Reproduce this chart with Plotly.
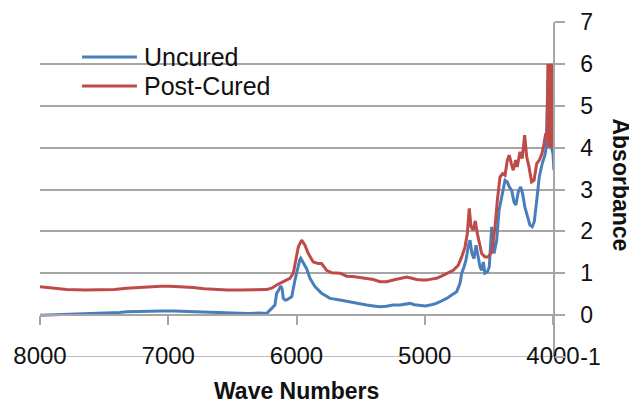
import plotly.graph_objects as go

# ---------------- data ----------------
uncured_wn = [8000, 7900, 7800, 7665, 7550, 7454, 7380, 7324, 7240, 7142, 7050, 6961, 6860, 6752, 6620,
              6493, 6380, 6290, 6233, 6207, 6194, 6168, 6155, 6142, 6123, 6112, 6103, 6090, 6077,
              6060, 6037, 6012, 5986, 5973, 5967, 5955, 5942, 5921, 5895, 5856, 5804, 5739, 5661,
              5600, 5557, 5500, 5453, 5400, 5349, 5300, 5245, 5193, 5150, 5115, 5080, 5037, 4995,
              4959, 4920, 4881, 4829, 4790, 4751, 4725, 4712, 4694, 4679, 4661, 4647, 4632, 4616,
              4600, 4583, 4569, 4556, 4543, 4531, 4512, 4497, 4478, 4460, 4439, 4421, 4400, 4374,
              4356, 4341, 4322, 4304, 4289, 4271, 4252, 4237, 4219, 4201, 4180, 4162, 4146, 4127,
              4107, 4084, 4063, 4052, 4048, 4044, 4040, 4035, 4030, 4024, 4016, 4008, 4000, 3993]
uncured_abs = [0.00, 0.01, 0.01, 0.02, 0.03, 0.04, 0.06, 0.08, 0.09, 0.10, 0.10, 0.10, 0.09, 0.07, 0.05,
               0.04, 0.04, 0.05, 0.04, 0.12, 0.16, 0.24, 0.52, 0.58, 0.70, 0.62, 0.40, 0.36, 0.36,
               0.40, 0.44, 0.84, 1.19, 1.33, 1.36, 1.30, 1.23, 1.11, 0.88, 0.68, 0.52, 0.40, 0.36,
               0.32, 0.29, 0.26, 0.24, 0.22, 0.20, 0.21, 0.24, 0.24, 0.26, 0.28, 0.25, 0.24, 0.22,
               0.24, 0.27, 0.32, 0.40, 0.48, 0.56, 0.76, 1.00, 1.15, 1.31, 1.63, 1.79, 1.47, 1.35,
               1.67, 1.39, 1.15, 1.07, 1.27, 1.00, 1.03, 1.15, 2.11, 1.47, 1.79, 2.50, 2.79, 3.22,
               3.18, 3.06, 2.98, 2.70, 2.63, 2.94, 3.06, 2.90, 2.58, 2.35, 2.15, 2.11, 2.23, 2.74,
               3.30, 3.62, 3.82, 4.02, 4.80, 5.50, 5.60, 5.50, 5.20, 4.60, 4.18, 3.95, 3.86, 3.46]

cured_wn = [8000, 7900, 7792, 7650, 7532, 7420, 7324, 7230, 7142, 7060, 6986, 6900, 6805, 6720,
            6622, 6540, 6441, 6330, 6233, 6190, 6155, 6103, 6051, 6025, 6012, 5986, 5960, 5934,
            5908, 5869, 5830, 5804, 5765, 5726, 5661, 5609, 5560, 5505, 5450, 5401, 5349, 5297,
            5245, 5190, 5141, 5100, 5063, 5020, 4985, 4950, 4907, 4870, 4829, 4778, 4739, 4712,
            4686, 4668, 4653, 4639, 4622, 4606, 4590, 4575, 4556, 4530, 4505, 4478, 4452, 4434,
            4413, 4392, 4374, 4356, 4341, 4325, 4310, 4291, 4279, 4257, 4240, 4221, 4205, 4187,
            4167, 4148, 4127, 4107, 4086, 4070, 4057, 4050, 4045,
            4040, 4037, 4034, 4031, 4028, 4025, 4022, 4019, 4016, 4013, 4010, 4007, 4004, 4001,
            3998, 3995]
cured_abs = [0.68, 0.65, 0.61, 0.60, 0.60, 0.61, 0.64, 0.66, 0.68, 0.69, 0.69, 0.68, 0.66, 0.63,
             0.61, 0.60, 0.60, 0.60, 0.61, 0.65, 0.72, 0.80, 0.88, 1.00, 1.23, 1.63, 1.79, 1.67,
             1.47, 1.27, 1.23, 1.23, 1.07, 1.01, 1.00, 0.93, 0.92, 0.90, 0.88, 0.85, 0.80, 0.80,
             0.84, 0.88, 0.91, 0.88, 0.85, 0.84, 0.84, 0.86, 0.88, 0.93, 1.00, 1.07, 1.19, 1.39,
             1.63, 1.95, 2.55, 2.11, 2.03, 2.25, 1.95, 1.71, 1.47, 1.39, 1.39, 1.51, 2.11, 2.74,
             3.30, 3.38, 3.34, 3.70, 3.82, 3.62, 3.46, 3.70, 3.54, 3.90, 3.74, 4.30, 3.78, 3.54,
             3.18, 3.22, 3.62, 3.70, 3.86, 4.10, 4.34, 4.20, 4.50,
             6.00, 4.30, 5.90, 4.00, 6.00, 4.50, 5.60, 4.10, 6.00, 4.40, 5.80, 4.00, 6.00, 4.60,
             5.40, 4.10]

series_names = ["Uncured", "Post-Cured"]
series_colors = ["#4A7EBB", "#BE4B48"]
x_ticks = [8000, 7000, 6000, 5000, 4000]
y_ticks = [-1, 0, 1, 2, 3, 4, 5, 6, 7]
y_tick_text = ["-1", "0", "1", "2", "3", "4", "5", "6", "7"]
x_title = "Wave Numbers"
y_title = "Absorbance"

FONT = "Liberation Sans, Arial, sans-serif"
GRID = "#A6A6A6"

fig = go.Figure()
for name, color, xs, ys in [
    (series_names[0], series_colors[0], uncured_wn, uncured_abs),
    (series_names[1], series_colors[1], cured_wn, cured_abs),
]:
    fig.add_trace(go.Scatter(x=xs, y=ys, mode="lines", name=name,
                             line=dict(color=color, width=3), showlegend=False))

# bottom gridline at y = -1 (range edge)
fig.add_shape(type="line", xref="paper", yref="y", x0=0, x1=1, y0=-1, y1=-1,
              line=dict(color=GRID, width=1.5), layer="below")

# custom legend (line swatch + label)
legend_rows = [0.8955, 0.809]
for name, color, yy in zip(series_names, series_colors, legend_rows):
    fig.add_shape(type="line", xref="paper", yref="paper", x0=0.082, x1=0.189, y0=yy, y1=yy,
                  line=dict(color=color, width=3))
    fig.add_annotation(xref="paper", yref="paper", x=0.199, y=yy, xanchor="left", yanchor="middle",
                       text=name, showarrow=False, font=dict(family=FONT, size=25, color="#111111"))

fig.add_annotation(xref="paper", yref="paper", x=0.5, y=-0.10, xanchor="center", yanchor="middle",
                   text=f"<b>{x_title}</b>", showarrow=False,
                   font=dict(family=FONT, size=23, color="#111111"))
fig.add_annotation(xref="paper", yref="paper", x=1.132, y=0.513, xanchor="center", yanchor="middle",
                   text=f"<b>{y_title}</b>", textangle=90, showarrow=False,
                   font=dict(family=FONT, size=23, color="#111111"))

# the page body has an 8px default margin, so the figure is 8px smaller than the window
fig.update_layout(
    width=629, height=395,
    margin=dict(l=32, r=84, t=14, b=46, autoexpand=False),
    paper_bgcolor="white", plot_bgcolor="white",
    font=dict(family=FONT, color="#111111"),
    xaxis=dict(range=[8000, 4000], tickvals=x_ticks, ticktext=[str(v) for v in x_ticks],
               anchor="free", position=0.125, showline=True, linecolor=GRID, linewidth=1.5,
               ticks="outside", ticklen=9, tickcolor=GRID, tickwidth=1.5, automargin=False,
               showgrid=False, zeroline=False, ticklabelstandoff=10,
               tickfont=dict(family=FONT, size=24, color="#111111")),
    yaxis=dict(range=[-1, 7], tickvals=y_ticks, ticktext=y_tick_text, side="right", showline=True,
               linecolor=GRID, automargin=False,
               linewidth=1.5, ticks="outside", ticklen=10, tickcolor=GRID, tickwidth=1.5,
               showgrid=True, gridcolor=GRID, gridwidth=1.5, zeroline=False,
               ticklabelstandoff=11, tickfont=dict(family=FONT, size=23, color="#111111")),
)

fig.write_html("out.html")
